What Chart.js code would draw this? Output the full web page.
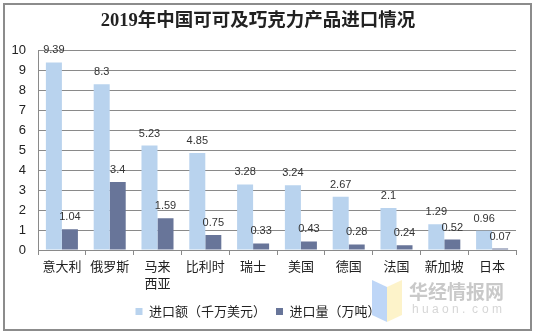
<!DOCTYPE html>
<html>
<head>
<meta charset="utf-8">
<script src="https://cdn.jsdelivr.net/npm/chart.js@4.4.1/dist/chart.umd.min.js"></script>
<style>
html,body{margin:0;padding:0;background:#fff;}
#wrap{position:relative;width:535px;height:336px;}
</style>
</head>
<body>
<div id="wrap"><canvas id="c" width="535" height="336"></canvas></div>
<script>
const categories = ['意大利', '俄罗斯', ['马来', '西亚'], '比利时', '瑞士', '美国', '德国', '法国', '新加坡', '日本'];
const importValue = [9.39, 8.3, 5.23, 4.85, 3.28, 3.24, 2.67, 2.1, 1.29, 0.96];
const importVolume = [1.04, 3.4, 1.59, 0.75, 0.33, 0.43, 0.28, 0.24, 0.52, 0.07];
const seriesNames = ['进口额（千万美元）', '进口量（万吨）'];
const titleText = '2019年中国可可及巧克力产品进口情况';

const CJK = '"Noto Sans CJK SC", "Liberation Sans", sans-serif';
const NUM = '"Liberation Sans", Arial, sans-serif';
const GRID = '#8a8a8a';

const frame = {
  id: 'frame',
  beforeDraw(chart) {
    const ctx = chart.ctx;
    ctx.save();
    ctx.fillStyle = '#fff';
    ctx.fillRect(0, 0, chart.width, chart.height);
    ctx.strokeStyle = '#8c8c8c';
    ctx.lineWidth = 2;
    ctx.strokeRect(4, 4, 527, 326);
    ctx.restore();
  }
};

const valueLabels = {
  id: 'valueLabels',
  afterDatasetsDraw(chart) {
    const ctx = chart.ctx;
    ctx.save();
    ctx.font = '11px ' + NUM;
    ctx.fillStyle = '#333';
    ctx.textAlign = 'center';
    ctx.textBaseline = 'middle';
    chart.data.datasets.forEach((ds, i) => {
      chart.getDatasetMeta(i).data.forEach((bar, j) => {
        ctx.fillText(String(ds.data[j]), bar.x, bar.y - 12);
      });
    });
    ctx.restore();
  }
};

const watermark = {
  id: 'watermark',
  afterDraw(chart) {
    const ctx = chart.ctx;
    ctx.save();
    ctx.globalAlpha = 0.75;
    ctx.fillStyle = '#a8c8f4';
    ctx.beginPath();
    ctx.moveTo(372, 280); ctx.lineTo(387, 287); ctx.lineTo(387, 322); ctx.lineTo(372, 315); ctx.closePath();
    ctx.fill();
    ctx.fillStyle = '#fcefb8';
    ctx.beginPath();
    ctx.moveTo(387, 287); ctx.lineTo(402, 280); ctx.lineTo(402, 315); ctx.lineTo(387, 322); ctx.closePath();
    ctx.fill();
    ctx.globalAlpha = 1;
    ctx.fillStyle = '#c9c9c9';
    ctx.font = 'bold 19px ' + CJK;
    ctx.textBaseline = 'middle';
    ctx.textAlign = 'left';
    ctx.fillText('华经情报网', 409, 292);
    ctx.fillStyle = '#d6d6d6';
    ctx.font = '12px ' + NUM;
    const s = 'huaon.com';
    let x = 412;
    for (const ch of s) { ctx.fillText(ch, x, 310); x += 10; }
    ctx.restore();
  }
};

new Chart(document.getElementById('c'), {
  type: 'bar',
  data: {
    labels: categories,
    datasets: [
      { label: seriesNames[0], data: importValue, backgroundColor: '#b9d3ee', categoryPercentage: 0.67, barPercentage: 1 },
      { label: seriesNames[1], data: importVolume, backgroundColor: '#687599', categoryPercentage: 0.67, barPercentage: 1 }
    ]
  },
  options: {
    responsive: false,
    animation: false,
    devicePixelRatio: 1,
    layout: { padding: { left: 0, right: 19, top: 0, bottom: 8 } },
    plugins: {
      title: {
        display: true,
        text: titleText,
        color: '#222',
        font: { family: '"Liberation Serif", "Noto Sans CJK SC", serif', size: 18.5, weight: 'bold' },
        padding: { top: 10, bottom: 18 }
      },
      legend: {
        position: 'bottom',
        labels: {
          boxWidth: 7, boxHeight: 7, padding: 10,
          color: '#222',
          font: { family: CJK, size: 13 }
        }
      },
      tooltip: { enabled: false }
    },
    scales: {
      x: {
        grid: { display: true, drawOnChartArea: false, drawTicks: true, tickLength: 5, color: GRID, offset: true },
        border: { display: true, color: GRID },
        ticks: { color: '#222', font: { family: CJK, size: 13, lineHeight: 1.3 }, padding: 3, maxRotation: 0, autoSkip: false },
        afterFit(scale) { scale.height = 45; }
      },
      y: {
        min: 0, max: 10,
        ticks: { stepSize: 1, color: '#222', font: { family: NUM, size: 13 }, padding: 12 },
        grid: { color: GRID, drawTicks: false },
        border: { display: true, color: GRID },
        afterFit(scale) { scale.width = 38; }
      }
    }
  },
  plugins: [frame, valueLabels, watermark]
});
</script>
</body>
</html>
